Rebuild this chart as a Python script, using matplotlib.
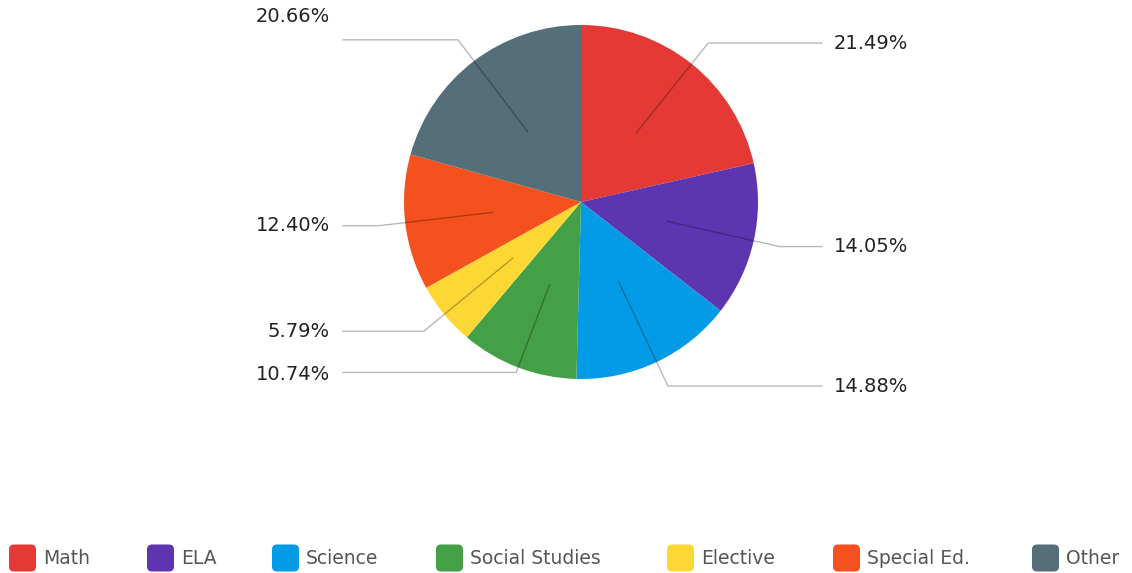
import matplotlib.pyplot as plt
from matplotlib.patches import FancyBboxPatch
import numpy as np

plt.rcParams['font.family'] = ['DejaVu Sans']

# data
subjects = ['Math', 'ELA', 'Science', 'Social Studies', 'Elective', 'Special Ed.', 'Other']
shares = [21.49, 14.05, 14.88, 10.74, 5.79, 12.40, 20.66]
colors = ['#E53935', '#5E35B1', '#039BE5', '#43A047', '#FDD835', '#F4511E', '#546E7A']

W, H = 1132, 573
cx, cy, R = 581, H - 202, 177

fig = plt.figure(figsize=(W / 100, H / 100), dpi=100)
ax = fig.add_axes([0, 0, 1, 1])

wedges, _ = ax.pie(shares, colors=colors, startangle=90, counterclock=False,
                   center=(cx, cy), radius=R, wedgeprops=dict(linewidth=0))
ax.set_xlim(0, W)
ax.set_ylim(0, H)
ax.set_aspect('equal')
ax.axis('off')

# leader lines: from inside the slice, out past the rim, then flat to the label
elbow = {'Social Studies': 1.03}
label_nudge = {'Other': 23, 'Social Studies': -2}
for w, name, val in zip(wedges, subjects, shares):
    mid = np.deg2rad((w.theta1 + w.theta2) / 2)
    k = elbow.get(name, 1.15)
    x0, y0 = cx + 0.5 * R * np.cos(mid), cy + 0.5 * R * np.sin(mid)
    x1, y1 = cx + k * R * np.cos(mid), cy + k * R * np.sin(mid)
    right = np.cos(mid) >= 0
    x2 = 822 if right else 343
    ax.plot([x0, x1, x2], [y0, y1, y1], color='black', alpha=0.28, lw=1.0,
            solid_joinstyle='miter', zorder=3)
    ty = y1 + label_nudge.get(name, 0)
    ax.text(x2 + 12 if right else x2 - 13, ty, f'{val:.2f}%',
            ha='left' if right else 'right', va='center',
            fontsize=14, color='#222222')

# legend row along the bottom
legend_x = [9, 147, 272, 436, 667, 833, 1032]
ly = H - 558
for x, name, c in zip(legend_x, subjects, colors):
    box = FancyBboxPatch((x, ly - 13.5), 27, 27, boxstyle='round,pad=0,rounding_size=5',
                         facecolor=c, edgecolor='none')
    ax.add_patch(box)
    ax.text(x + 34, ly, name, ha='left', va='center', fontsize=13.5, color='#555555')

fig.savefig('out.png', dpi=100)
